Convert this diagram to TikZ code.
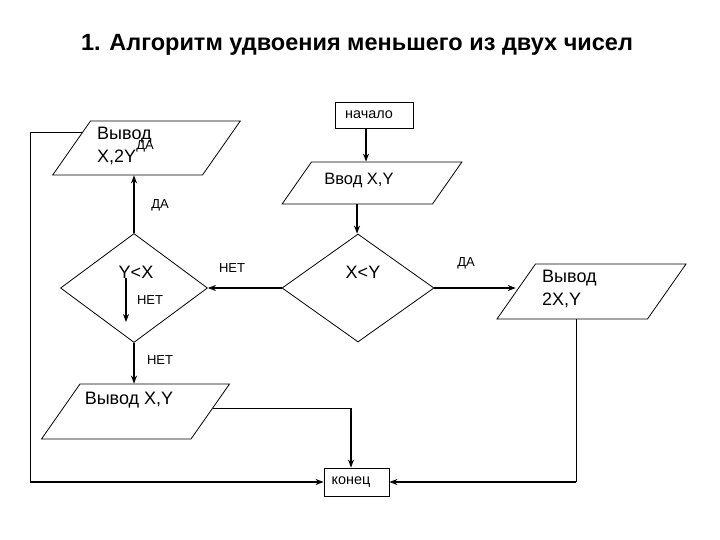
\documentclass[tikz,border=0pt]{standalone}
\usepackage{fontspec}
\setmainfont{Liberation Sans}
\usetikzlibrary{shapes.geometric, arrows.meta, calc, positioning}

\begin{document}
\begin{tikzpicture}[x=1pt,y=-1pt,>={Stealth[length=8pt,width=6pt]},
                    box/.style={rectangle,draw,line width=0.8pt,inner sep=0pt,font=\fontsize{14.4}{16}\selectfont},
                    io/.style={trapezium,trapezium left angle=55,trapezium right angle=125,
                               draw,line width=0.8pt,inner sep=0pt,text depth=0pt},
                    decision/.style={diamond,draw,line width=0.8pt,inner sep=0pt},
                    txt/.style={font=\fontsize{18}{23}\selectfont,inner sep=0pt,align=left},
                    lbl/.style={font=\fontsize{13}{15}\selectfont,inner sep=0pt},
                    flow/.style={->,line width=1.8pt},
                    thin line/.style={line width=0.9pt}]

  \useasboundingbox (0,0) rectangle (720,540);

  \node[font=\bfseries\fontsize{23.5}{26}\selectfont] (title) at (357,45) {1. Алгоритм удвоения меньшего из двух чисел};

  % blocks
  \node[box, minimum width=78pt, minimum height=26pt] (start) at (374,115) {};
  \node[io, text width=121pt, text height=42pt] (inp) at (372,183) {};
  \node[decision, minimum width=152pt, minimum height=108pt] (xy) at (358,288) {};
  \node[decision, minimum width=147pt, minimum height=109pt] (yx) at (134,288) {};
  \node[io, text width=112pt, text height=54pt] (out2y) at (146.5,148) {};
  \node[io, text width=111pt, text height=55pt] (outxy) at (135.5,411.5) {};
  \node[io, text width=112pt, text height=55pt] (out2x) at (591.5,291.5) {};
  \node[box, minimum width=65pt, minimum height=28pt] (stop) at (356.5,482) {};

  % texts
  \node[box, draw=none] (tstart) at (369,115) {начало};
  \node[txt, font=\fontsize{16.5}{20}\selectfont] (tinp) at (359,180) {Ввод X,Y};
  \node[txt] (txy) at (363,272) {X<Y};
  \node[txt] (tyx) at (136,272) {Y<X};
  \node[txt, anchor=west] (t2y) at (97,146) {Вывод\\X,2Y};
  \node[txt] (txy2) at (129,400) {Вывод X,Y};
  \node[txt, anchor=west] (t2x) at (542,289) {Вывод\\2X,Y};
  \node[box, draw=none] (tstop) at (351,482) {конец};

  \node[lbl] (yes1) at (145,146) {ДА};
  \node[lbl] (yes2) at (160,205) {ДА};
  \node[lbl] (yes3) at (466,263) {ДА};
  \node[lbl] (no1) at (232,268) {НЕТ};
  \node[lbl] (no2) at (150,300) {НЕТ};
  \node[lbl] (no3) at (160,360) {НЕТ};

  \coordinate (lft) at (30,300);
  \coordinate (stub) at (126,322);
  \coordinate (p) at ($(out2y.bottom left corner)!0.78!(out2y.top left corner)$);
  \coordinate (q) at ($(outxy.bottom right corner)!0.56!(outxy.top right corner)$);

  % connectors
  \draw[flow] ([xshift=-8pt]start.south) -- ([xshift=-8pt]start.south |- inp.top side);
  \draw[flow] (inp.bottom side) -- (inp.bottom side |- xy.north);
  \draw[flow] (xy.west) -- (yx.east);
  \draw[flow] (xy.east) -- (xy.east -| out2x.left side);
  \draw[flow] (yx.north) -- (yx.north |- out2y.bottom side);
  \draw[flow] (yx.south) -- (yx.south |- outxy.top side);
  \draw[->,line width=1.2pt] (stub |- tyx.south) -- (stub);

  \draw[thin line] (p) -- (p -| lft) -- (lft |- stop.west);
  \draw[flow] (lft |- stop.west) -- (stop.west);
  \draw[thin line] (q) -- (q -| tstop.north);
  \draw[flow] (q -| tstop.north) -- (tstop.north |- stop.north);
  \draw[thin line] ([xshift=4pt]out2x.bottom side) -- ([xshift=4pt]out2x.bottom side |- stop.east);
  \draw[flow] ([xshift=4pt]out2x.bottom side |- stop.east) -- (stop.east);
\end{tikzpicture}
\end{document}
